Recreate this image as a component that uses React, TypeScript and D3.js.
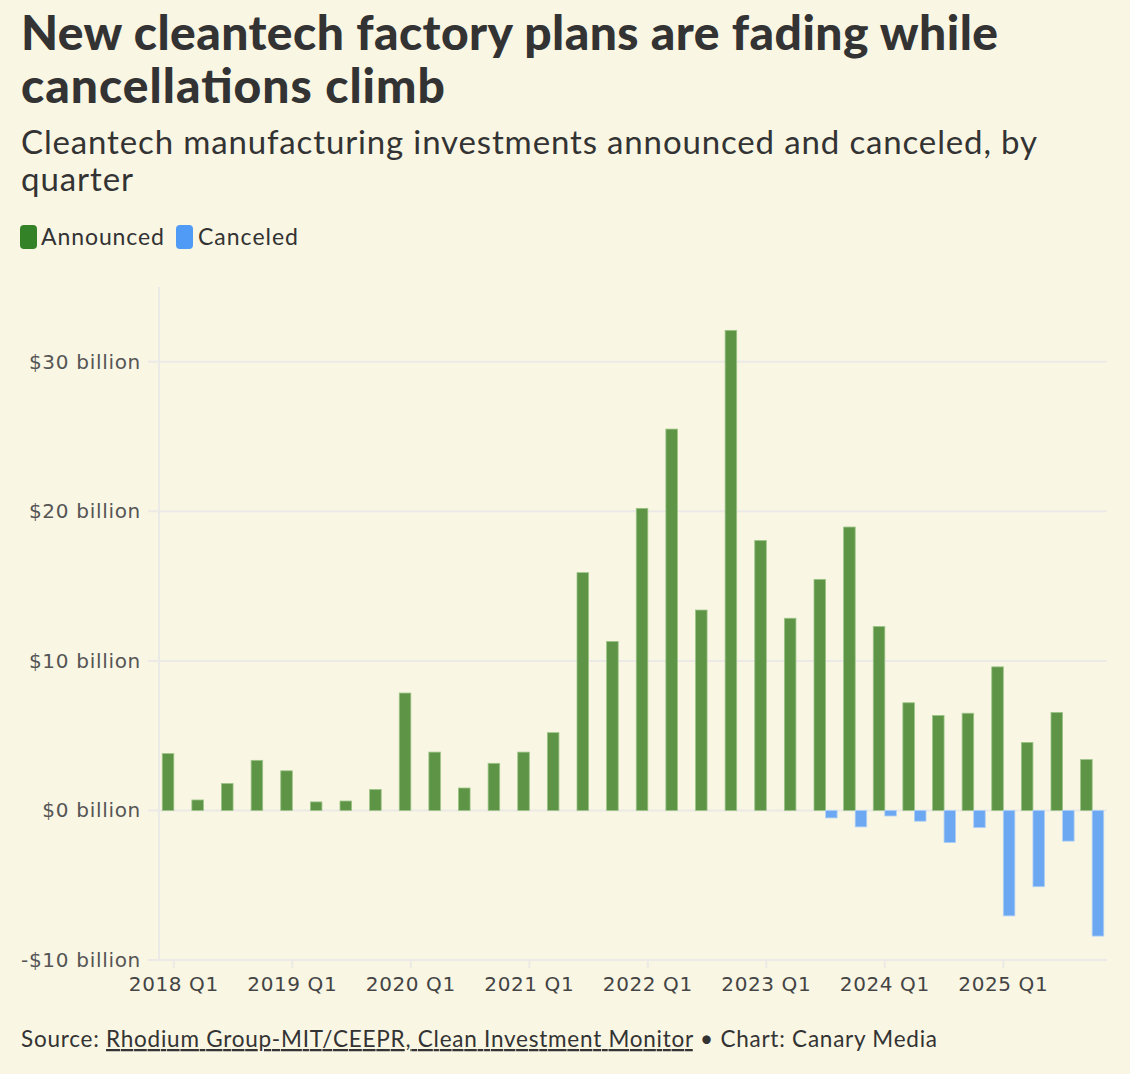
import * as d3 from 'd3'

const quarters = [
  '2018 Q1', '2018 Q2', '2018 Q3', '2018 Q4',
  '2019 Q1', '2019 Q2', '2019 Q3', '2019 Q4',
  '2020 Q1', '2020 Q2', '2020 Q3', '2020 Q4',
  '2021 Q1', '2021 Q2', '2021 Q3', '2021 Q4',
  '2022 Q1', '2022 Q2', '2022 Q3', '2022 Q4',
  '2023 Q1', '2023 Q2', '2023 Q3', '2023 Q4',
  '2024 Q1', '2024 Q2', '2024 Q3', '2024 Q4',
  '2025 Q1', '2025 Q2', '2025 Q3', '2025 Q4',
]

// $ billion
const announced = [
  3.8, 0.7, 1.8, 3.35,
  2.65, 0.57, 0.63, 1.4,
  7.85, 3.9, 1.5, 3.15,
  3.9, 5.2, 15.9, 11.3,
  20.2, 25.5, 13.4, 32.1,
  18.05, 12.85, 15.45, 18.95,
  12.3, 7.2, 6.35, 6.5,
  9.6, 4.55, 6.55, 3.4,
]
const canceled = [
  0, 0, 0, 0,
  0, 0, 0, 0,
  0, 0, 0, 0,
  0, 0, 0, 0,
  0, 0, 0, 0,
  0, 0, -0.5, -1.1,
  -0.37, -0.72, -2.15, -1.15,
  -7.05, -5.1, -2.05, -8.4,
]
const seriesNames = ['Announced', 'Canceled']
const yTicks = [-10, 0, 10, 20, 30]
const xTickLabels = ['2018 Q1', '2019 Q1', '2020 Q1', '2021 Q1', '2022 Q1', '2023 Q1', '2024 Q1', '2025 Q1']

const W = 1130
const H = 1074
const bg = '#f9f6e4'
const grid = '#ebeae6'
const ink = '#333333'
const axisFont = '"DejaVu Sans", sans-serif'
const textFont = '"Lato", sans-serif'

export default function App() {
  const left = 159
  const right = 1107
  const top = 287
  const bottom = 960

  const x = d3.scaleBand<string>().domain(quarters).range([left, right]).paddingInner(0.22).paddingOuter(0.11)
  const sub = d3.scaleBand<string>().domain(seriesNames).range([0, x.bandwidth()])
  const y = d3.scaleLinear().domain([-10, 35]).range([bottom, top])

  const fmt = (v: number) => (v < 0 ? `-$${Math.abs(v)} billion` : `$${v} billion`)

  const bar = (v: number) => ({ y: Math.min(y(v), y(0)), h: Math.abs(y(v) - y(0)) })

  return (
    <svg width={W} height={H} style={{ position: 'absolute', left: 0, top: 0 }} fontFamily={textFont}>
      <rect x={0} y={0} width={W} height={H} fill={bg} />

      <text x={21} y={50} fontSize={48} fontWeight={900} fill={ink} textLength={977} lengthAdjust="spacing">New cleantech factory plans are fading while</text>
      <text x={21} y={103} fontSize={48} fontWeight={900} fill={ink} textLength={424} lengthAdjust="spacing">cancellations climb</text>
      <text x={21} y={154} fontSize={33} fill={ink} textLength={1016} lengthAdjust="spacing">Cleantech manufacturing investments announced and canceled, by</text>
      <text x={21} y={191} fontSize={33} fill={ink} textLength={112} lengthAdjust="spacing">quarter</text>

      <g fontSize={23} fill={ink}>
        <rect x={20} y={225} width={17} height={24} rx={4} fill="#348227" />
        <text x={41} y={245} textLength={123} lengthAdjust="spacing">Announced</text>
        <rect x={176} y={225} width={17} height={24} rx={4} fill="#4f9bf5" />
        <text x={198} y={245} textLength={100} lengthAdjust="spacing">Canceled</text>
      </g>

      {/* grid */}
      {yTicks.map(t => (
        <g key={t}>
          <line x1={left - 11} x2={right} y1={y(t)} y2={y(t)} stroke={grid} strokeWidth={2} />
          <text x={141} y={y(t)} dy="0.35em" textAnchor="end" fontFamily={axisFont} fontSize={20} letterSpacing={0.7} fill="#555">{fmt(t)}</text>
        </g>
      ))}
      <line x1={left} x2={left} y1={top} y2={bottom} stroke={grid} strokeWidth={2} />

      {/* x ticks */}
      {xTickLabels.map(q => {
        const cx = (x(q) ?? 0) + x.bandwidth() / 2
        return (
          <g key={q}>
            <line x1={cx} x2={cx} y1={bottom} y2={bottom + 8} stroke={grid} strokeWidth={2} />
            <text x={cx} y={bottom + 31} textAnchor="middle" fontFamily={axisFont} fontSize={20} letterSpacing={0.6} fill="#444">{q}</text>
          </g>
        )
      })}

      {/* bars */}
      {quarters.map((q, i) => {
        const a = bar(announced[i])
        const c = bar(canceled[i])
        const bx = x(q) ?? 0
        return (
          <g key={q}>
            {announced[i] !== 0 && (
              <rect x={bx + (sub('Announced') ?? 0)} y={a.y} width={sub.bandwidth()} height={a.h}
                fill="#5d9446" stroke="#9cc486" strokeWidth={0.8} />
            )}
            {canceled[i] !== 0 && (
              <rect x={bx + (sub('Canceled') ?? 0)} y={c.y} width={sub.bandwidth()} height={c.h}
                fill="#6ca8f2" stroke="#b0d0f5" strokeWidth={0.8} />
            )}
          </g>
        )
      })}

      <text x={21} y={1047} fontSize={22.5} fill={ink} textLength={916} lengthAdjust="spacing">
        Source:{' '}
        <tspan textDecoration="underline">Rhodium Group-MIT/CEEPR, Clean Investment Monitor</tspan>
        {' • Chart: Canary Media'}
      </text>
    </svg>
  )
}
